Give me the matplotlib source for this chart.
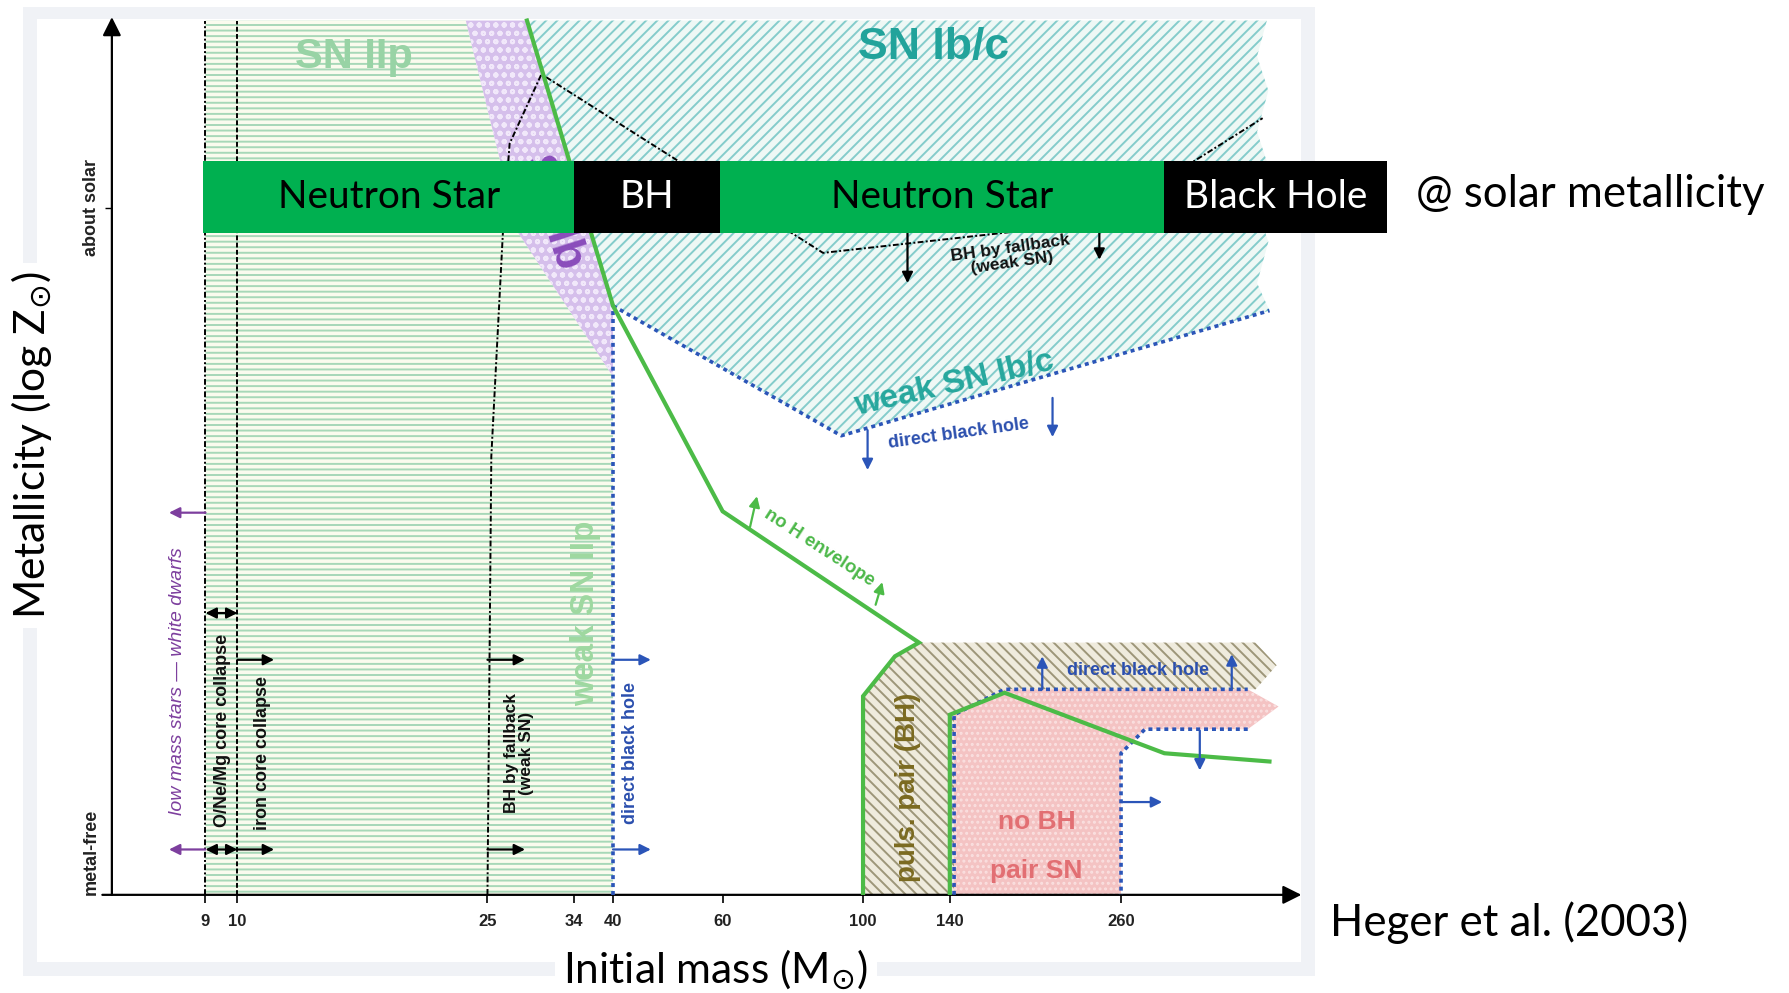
import numpy as np
import matplotlib
matplotlib.use("Agg")
import matplotlib.pyplot as plt
from matplotlib.patches import Polygon, Rectangle

plt.rcParams['hatch.linewidth'] = 1.4
plt.rcParams['font.family'] = ['Liberation Sans', 'DejaVu Sans']

W, H = 1568.0, 870.0   # layout grid used for placing things on the figure

# ---- schematic mass axis (non linear) ----
mass_anchor = [5, 9, 10, 25, 34, 40, 60, 100, 140, 260, 500]
pos_anchor = [98, 180, 208, 427, 503, 537, 633, 756, 832, 982, 1140]

mass_ticks = [9, 10, 25, 34, 40, 60, 100, 140, 260]
mass_ticklabels = ["9", "10", "25", "34", "40", "60", "100", "140", "260"]

# ---- regions: (initial mass, metallicity index; 0 = metal-free, 100 = about solar) ----
sn2p_m = [9, 9, 23.7, 25.4, 28.2, 40, 40]
sn2p_z = [0, 127.2, 127.2, 112, 96.3, 75.4, 0]

sn1b_m = [23.7, 29.1, 40, 40, 28.2, 25.4]
sn1b_z = [127.2, 127.2, 85.7, 75.4, 96.3, 112]

sn1bc_m = [29.1, 40, 93.8, 457.5, 441, 456, 441, 456, 441, 456, 441, 454]
sn1bc_z = [127.2, 85.7, 66.8, 85.0, 89, 95, 100, 106, 111, 117, 122, 127.2]

puls_m = [100, 100, 114.7, 125.8, 439, 467, 439, 178.4, 143, 143]
puls_z = [0, 28.9, 34.7, 36.7, 36.7, 33.4, 29.9, 29.9, 26.2, 0]

pair_m = [143, 143, 178.4, 428.6, 469.6, 428.6, 291.9, 260, 260]
pair_z = [0, 26.2, 29.9, 29.9, 27.4, 24.1, 24.1, 20.6, 0]

# ---- boundary lines ----
noH_m = [29.1, 40, 60, 125.8, 114.7, 100, 100]
noH_z = [127.2, 85.7, 55.8, 36.7, 34.7, 28.9, 0]
pairedge_m = [140, 140, 178.4, 317.7, 457.5]
pairedge_z = [0, 26.2, 29.4, 20.6, 19.4]
fallback_m = [25, 25.4, 26.6, 27.3, 30.6, 88.6, 242.4, 448.4]
fallback_z = [0, 63.8, 96.3, 109.3, 119.4, 93.4, 97.8, 113.0]
dbh40_m, dbh40_z = [40, 40], [0, 85.7]
weak1bc_m, weak1bc_z = [40, 93.8, 457.5], [85.7, 66.8, 85.0]
pairtop_m, pairtop_z = [143, 143, 178.4, 428.6], [0, 26.2, 29.9, 29.9]
pairright_m, pairright_z = [428.6, 291.9, 260, 260], [24.1, 24.1, 20.6, 0]

# ---- arrows (mass0, z0, mass1, z1) ----
purple_arrows = [(9, 55.6, 7.44, 55.6), (9, 6.6, 7.44, 6.6)]
black_arrows = [(10, 34.2, 12.2, 34.2), (10, 6.6, 12.2, 6.6),
                (25, 34.2, 28.9, 34.2), (25, 6.6, 28.9, 6.6),
                (120.5, 96.3, 120.5, 89.0), (244.8, 96.8, 244.8, 92.4)]
black_double = [(9, 41.0, 10, 41.0), (9, 6.6, 10, 6.6)]
blue_arrows = [(40, 34.2, 46.9, 34.2), (40, 6.6, 46.9, 6.6),
               (102.1, 67.6, 102.1, 61.8), (212, 72.3, 212, 66.6),
               (204.8, 29.9, 204.8, 34.7), (407.3, 29.9, 407.3, 35.0),
               (364.8, 23.9, 364.8, 18.1), (260, 13.5, 314.7, 13.5)]
green_arrows = [(67.8, 53.5, 69.8, 58.0), (105.8, 42.2, 108.9, 45.5)]

# ---- remnant bar at solar metallicity ----
bar_edges = [178, 503, 631, 1020, 1215]
bar_labels = ["Neutron Star", "BH", "Neutron Star", "Black Hole"]
bar_colors = ["#00b050", "black", "#00b050", "black"]
bar_text_colors = ["black", "white", "black", "white"]


def fx(x):
    return x / W


def fy(y):
    return 1 - y / H


fig = plt.figure(figsize=(17.9, 9.93), dpi=100)

# light frame of the pasted figure
fig.add_artist(Rectangle((fx(20), fy(855)), fx(1152) - fx(20), fy(6) - fy(855),
                         transform=fig.transFigure, facecolor="#f0f2f6",
                         edgecolor="none", zorder=-3))
fig.add_artist(Rectangle((fx(32), fy(843)), fx(1140) - fx(32), fy(17) - fy(843),
                         transform=fig.transFigure, facecolor="white",
                         edgecolor="none", zorder=-2))

ax = fig.add_axes([fx(98), fy(784), fx(1140) - fx(98), fy(15) - fy(784)])
ax.patch.set_visible(False)
ax.set_xscale("function", functions=(lambda m: np.interp(m, mass_anchor, pos_anchor),
                                     lambda p: np.interp(p, pos_anchor, mass_anchor)))
ax.set_xlim(5, 500)
ax.set_ylim(0, 127.7)
for s in ax.spines.values():
    s.set_visible(False)

ax.set_xticks(mass_ticks)
ax.set_xticklabels(mass_ticklabels, fontsize=12, fontweight="bold", color="#222222")
ax.tick_params(axis="x", length=6, width=1.2, pad=8)
ax.set_yticks([100])
ax.set_yticklabels([""])
ax.tick_params(axis="y", length=5, width=1.0)

# axis arrows
ax.annotate("", xy=(0, 1.0), xytext=(0, 0), xycoords="axes fraction",
            arrowprops=dict(arrowstyle="-|>", lw=1.6, color="black",
                            mutation_scale=28, shrinkA=0, shrinkB=0))
ax.annotate("", xy=(1.0, 0), xytext=(-0.008, 0), xycoords="axes fraction",
            arrowprops=dict(arrowstyle="-|>", lw=1.6, color="black",
                            mutation_scale=28, shrinkA=0, shrinkB=0))

# regions
ax.add_patch(Polygon(np.column_stack([sn2p_m, sn2p_z]), closed=True,
                     facecolor="#fafbee", edgecolor="#a7d8b8", hatch="---", lw=0, zorder=1))
ax.add_patch(Polygon(np.column_stack([sn1b_m, sn1b_z]), closed=True,
                     facecolor="#d5bfeb", edgecolor="#f1e8fa", hatch="oo", lw=0, zorder=1))
ax.add_patch(Polygon(np.column_stack([sn1bc_m, sn1bc_z]), closed=True,
                     facecolor="#eef8f5", edgecolor="#84cccb", hatch="///", lw=0, zorder=1))
ax.add_patch(Polygon(np.column_stack([puls_m, puls_z]), closed=True,
                     facecolor="#efebdd", edgecolor="#9d9679", hatch="\\\\\\", lw=0, zorder=1))
ax.add_patch(Polygon(np.column_stack([pair_m, pair_z]), closed=True,
                     facecolor="#f4c3c3", edgecolor="#fae0e0", hatch="...", lw=0, zorder=1.5))

# boundaries
dash_dot = (0, (3, 1.2, 1, 1.2))
ax.plot([9, 9], [0, 127.2], color="black", lw=1.4, ls=dash_dot, zorder=3)
ax.plot([10, 10], [0, 127.2], color="black", lw=1.4, ls=(0, (2.5, 1.2)), zorder=3)
ax.plot(fallback_m, fallback_z, color="black", lw=1.4, ls=dash_dot, zorder=3)
blue_dot = (0, (1.1, 1.1))
for bm, bz in [(dbh40_m, dbh40_z), (weak1bc_m, weak1bc_z),
               (pairtop_m, pairtop_z), (pairright_m, pairright_z)]:
    ax.plot(bm, bz, color="#2b55b8", lw=2.6, ls=blue_dot, zorder=3)
ax.plot(noH_m, noH_z, color="#4cbb47", lw=3, solid_joinstyle="miter", zorder=4)
ax.plot(pairedge_m, pairedge_z, color="#4cbb47", lw=3, solid_joinstyle="miter", zorder=4)


def arrow(a, color, style="-|>"):
    ax.annotate("", xy=(a[2], a[3]), xytext=(a[0], a[1]),
                arrowprops=dict(arrowstyle=style, color=color, lw=1.6,
                                mutation_scale=16, shrinkA=0, shrinkB=0), zorder=5)


for a in purple_arrows:
    arrow(a, "#7d3f9e")
for a in black_arrows:
    arrow(a, "black")
for a in black_double:
    arrow(a, "black", "<|-|>")
for a in blue_arrows:
    arrow(a, "#2b55b8")
for a in green_arrows:
    arrow(a, "#4cbb47")

# region labels
ax.text(17.0, 121.9, "SN IIp", fontsize=30, fontweight="bold", color="#98d3a5",
        ha="center", va="center", zorder=6)
ax.text(132.6, 123.3, "SN Ib/c", fontsize=32, fontweight="bold", color="#22a39b",
        ha="center", va="center", zorder=6)
ax.text(31.75, 99.3, "SN Ib", fontsize=33, fontweight="bold", color="#8a4dbb",
        ha="center", va="center", rotation=-72, rotation_mode="anchor", zorder=6)
ax.text(143.2, 74.3, "weak SN Ib/c", fontsize=24, fontweight="bold", color="#26a79d",
        ha="center", va="center", rotation=13, rotation_mode="anchor", zorder=6)
ax.text(146.4, 67.1, "direct black hole", fontsize=13, fontweight="bold", color="#2b4fae",
        ha="center", va="center", rotation=8, rotation_mode="anchor", zorder=6)
ax.text(183.2, 93.0, "BH by fallback\n(weak SN)", fontsize=12.5, fontweight="bold",
        color="#111111", ha="center", va="center", rotation=8, linespacing=1.0,
        rotation_mode="anchor", zorder=6)
ax.text(7.8, 31.1, "low mass stars \u2014 white dwarfs", fontsize=14, style="italic",
        color="#7d3f9e", ha="center", va="center", rotation=90, zorder=6)
ax.text(9.54, 23.9, "O/Ne/Mg core collapse", fontsize=13, fontweight="bold",
        color="#111111", ha="center", va="center", rotation=90, zorder=6)
ax.text(11.5, 20.6, "iron core collapse", fontsize=13, fontweight="bold",
        color="#111111", ha="center", va="center", rotation=90, zorder=6)
ax.text(28.3, 20.6, "BH by fallback\n(weak SN)", fontsize=12.5, fontweight="bold",
        color="#111111", ha="center", va="center", rotation=90, linespacing=1.0, zorder=6)
ax.text(35.8, 41.0, "weak SN IIp", fontsize=24, fontweight="bold", color="#9ed8a0",
        ha="center", va="center", rotation=90, zorder=6)
ax.text(43.1, 20.6, "direct black hole", fontsize=13, fontweight="bold", color="#2b4fae",
        ha="center", va="center", rotation=90, zorder=6)
ax.text(87.6, 50.5, "no H envelope", fontsize=13.5, fontweight="bold", color="#4cb849",
        ha="center", va="center", rotation=-33, rotation_mode="anchor", zorder=6)
ax.text(120.5, 15.6, "puls. pair (BH)", fontsize=20, fontweight="bold", color="#7b6a20",
        ha="center", va="center", rotation=90, zorder=6)
ax.text(200.8, 10.6, "no BH", fontsize=19, fontweight="bold", color="#e26f73",
        ha="center", va="center", zorder=6)
ax.text(200.8, 3.5, "pair SN", fontsize=19, fontweight="bold", color="#e26f73",
        ha="center", va="center", zorder=6)
ax.text(282.8, 32.7, "direct black hole", fontsize=13, fontweight="bold", color="#2b4fae",
        ha="center", va="center", zorder=6)

# metallicity marks
yax = ax.get_yaxis_transform()
ax.text(-0.017, 100, "about solar", transform=yax, fontsize=13, fontweight="bold",
        rotation=90, ha="center", va="center", color="#222222")
ax.text(-0.017, 0, "metal-free", transform=yax, fontsize=13, fontweight="bold",
        rotation=90, ha="center", va="bottom", color="#222222")

# remnant bar at solar metallicity
for i, lab in enumerate(bar_labels):
    x0, x1 = bar_edges[i], bar_edges[i + 1]
    fig.add_artist(Rectangle((fx(x0), fy(204)), fx(x1) - fx(x0), fy(141) - fy(204),
                             transform=fig.transFigure, facecolor=bar_colors[i],
                             edgecolor="none", zorder=10))
    fig.text(fx((x0 + x1) / 2), fy(173), lab, fontsize=28, family="Lato",
             color=bar_text_colors[i], ha="center", va="center", zorder=11)

fig.text(fx(1240), fy(170), "@ solar metallicity", fontsize=31.5, family="Lato",
         ha="left", va="center")
fig.text(fx(1165), fy(808), "Heger et al. (2003)", fontsize=31.5, family="Lato",
         ha="left", va="center")
fig.text(fx(627), fy(850), "Initial mass (M$_{\\odot}$)", fontsize=30.5, family="Lato",
         ha="center", va="center", zorder=11,
         bbox=dict(facecolor="white", edgecolor="none", pad=6))
fig.text(fx(28), fy(390), "Metallicity (log Z$_{\\odot}$)", fontsize=30.5, family="Lato",
         ha="center", va="center", rotation=90, zorder=11,
         bbox=dict(facecolor="white", edgecolor="none", pad=6))

fig.savefig("out.png", dpi=100)
